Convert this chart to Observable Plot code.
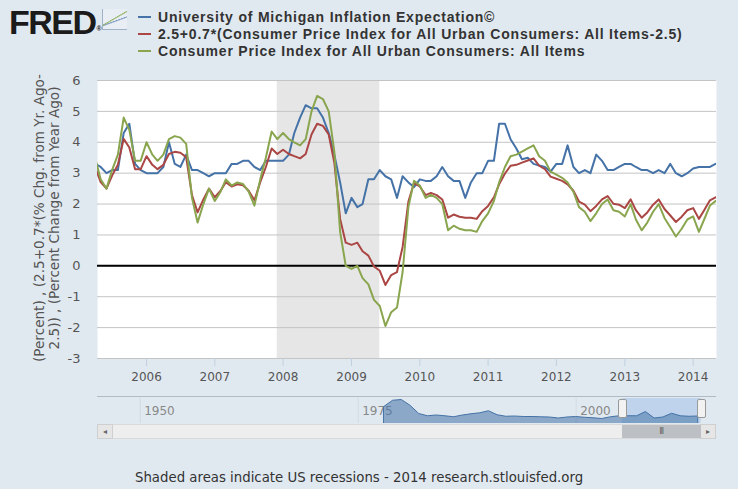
<!DOCTYPE html>
<html><head><meta charset="utf-8">
<script src="https://cdn.jsdelivr.net/npm/d3@7"></script>
<script src="https://cdn.jsdelivr.net/npm/@observablehq/plot@0.6"></script>
<style>
html,body{margin:0;padding:0;background:#e1e9f0;}
#wrap{position:relative;width:738px;height:489px;overflow:hidden;background:#e1e9f0;font-family:"DejaVu Sans",sans-serif;}
.abs{position:absolute;}
#logo{left:9px;top:3px;font:bold 34px "Liberation Sans",sans-serif;letter-spacing:-1.5px;color:#1b1b1b;}
#logo sup{font-size:7px;letter-spacing:0;vertical-align:top;position:relative;top:22px;left:1px;}
#icon{left:102px;top:9px;width:24px;height:20px;border-left:1px solid #9fb3c8;border-bottom:1px solid #9fb3c8;
 background:linear-gradient(150deg,transparent 45%,#8fb05a 47%,transparent 52%),linear-gradient(160deg,transparent 55%,#6f8fbf 57%,transparent 62%),#e8eef4;}
#legend{left:138px;top:9px;font:bold 14px "Liberation Sans",sans-serif;letter-spacing:0.8px;color:#333;line-height:17px;}
#legend .sw{display:inline-block;width:13px;height:2px;vertical-align:middle;margin-right:7px;position:relative;top:-1px;}
#ylab{left:-112px;top:202px;width:320px;height:32px;text-align:center;font-size:13.6px;line-height:15px;color:#555;transform:rotate(-90deg);white-space:pre;}
#navtop{left:97px;top:396px;width:619px;height:0;border-top:1px solid #b2bac4;}
#track{left:97px;top:424px;width:617px;height:13px;background:#eeeeee;border:1px solid #dadada;}
.btn{top:424px;width:14px;height:13px;background:#e6e6e6;border:1px solid #cfcfcf;font-size:8px;color:#666;text-align:center;line-height:13px;}
#thumb{top:425px;height:13px;background:#bcc0c5;color:#666;font-size:8px;text-align:center;line-height:13px;letter-spacing:-1px;}
.handle{top:399px;width:7px;height:17px;background:#f2f2f2;border:1px solid #999;border-radius:2px;}
#caption{left:135px;top:470px;font-size:13.3px;color:#333;}
</style></head>
<body><div id="wrap"></div>
<script>
// ---- data ----
const seriesNames = [
  "University of Michigan Inflation Expectation©",
  "2.5+0.7*(Consumer Price Index for All Urban Consumers: All Items-2.5)",
  "Consumer Price Index for All Urban Consumers: All Items"
];
const seriesColors = ["#4572a7", "#aa4643", "#89a54e"];
const startYear = 2005, startMonth = 3; // April 2005, monthly

const michigan = [
  3.3, 3.2, 3.0, 3.1, 3.1, 4.3, 4.6, 3.3, 3.1,
  3.0, 3.0, 3.0, 3.2, 4.0, 3.3, 3.2, 3.6, 3.1, 3.1, 3.0, 2.9,
  3.0, 3.0, 3.0, 3.3, 3.3, 3.4, 3.4, 3.2, 3.1, 3.4, 3.4, 3.4,
  3.4, 3.6, 4.3, 4.8, 5.2, 5.1, 5.1, 4.8, 4.3, 3.6, 2.7, 1.7,
  2.2, 1.9, 2.0, 2.8, 2.8, 3.1, 2.9, 2.8, 2.2, 2.9, 2.7, 2.55,
  2.8, 2.75, 2.75, 2.9, 3.2, 2.9, 2.75, 2.75, 2.2, 2.7, 3.0, 3.0,
  3.4, 3.4, 4.6, 4.6, 4.1, 3.8, 3.45, 3.5, 3.3, 3.25, 3.2, 3.05,
  3.3, 3.3, 3.9, 3.2, 3.0, 3.1, 3.0, 3.6, 3.4, 3.1, 3.1, 3.2,
  3.3, 3.3, 3.2, 3.1, 3.1, 3.0, 3.1, 3.0, 3.3, 3.0, 2.9, 3.0,
  3.15, 3.2, 3.2, 3.2, 3.3
];
const cpiAdjusted = [
  3.20, 2.71, 2.50, 2.92, 3.27, 4.11, 3.83, 3.13, 3.13,
  3.55, 3.27, 3.13, 3.27, 3.62, 3.69, 3.66, 3.52, 2.29, 1.73, 2.15, 2.50,
  2.22, 2.43, 2.71, 2.57, 2.64, 2.61, 2.43, 2.12, 2.71, 3.20, 3.80, 3.62,
  3.76, 3.62, 3.55, 3.48, 3.62, 4.25, 4.60, 4.53, 4.25, 3.34, 1.52, 0.75,
  0.68, 0.75, 0.47, 0.33, -0.02, -0.16, -0.62, -0.30, -0.20, 0.61, 2.08, 2.68,
  2.57, 2.29, 2.36, 2.29, 2.15, 1.56, 1.66, 1.59, 1.56, 1.56, 1.52, 1.77,
  1.94, 2.22, 2.64, 2.99, 3.24, 3.27, 3.34, 3.41, 3.48, 3.24, 3.13, 2.89,
  2.82, 2.75, 2.64, 2.43, 2.08, 1.98, 1.77, 1.94, 2.15, 2.26, 2.01, 1.98,
  1.87, 2.15, 1.80, 1.56, 1.73, 1.98, 2.15, 1.84, 1.63, 1.42, 1.59, 1.80,
  1.87, 1.52, 1.80, 2.12, 2.22
];
const cpi = [
  3.5, 2.8, 2.5, 3.1, 3.6, 4.8, 4.4, 3.4, 3.4,
  4.0, 3.6, 3.4, 3.6, 4.1, 4.2, 4.15, 3.95, 2.2, 1.4, 2.0, 2.5,
  2.1, 2.4, 2.8, 2.6, 2.7, 2.65, 2.4, 1.95, 2.8, 3.5, 4.35, 4.1,
  4.3, 4.1, 4.0, 3.9, 4.1, 5.0, 5.5, 5.4, 5.0, 3.7, 1.1, 0.0,
  -0.1, 0.0, -0.4, -0.6, -1.1, -1.3, -1.95, -1.5, -1.35, -0.2, 1.9, 2.75,
  2.6, 2.2, 2.3, 2.2, 2.0, 1.15, 1.3, 1.2, 1.15, 1.15, 1.1, 1.45,
  1.7, 2.1, 2.7, 3.2, 3.55, 3.6, 3.7, 3.8, 3.9, 3.55, 3.4, 3.05,
  2.95, 2.85, 2.7, 2.4, 1.9, 1.75, 1.45, 1.7, 2.0, 2.15, 1.8, 1.75,
  1.6, 2.0, 1.5, 1.15, 1.4, 1.75, 2.0, 1.55, 1.25, 0.95, 1.2, 1.5,
  1.6, 1.1, 1.5, 1.95, 2.1
];
const recessions = [{start: "2007-12-01", end: "2009-06-01"}];
const yTicks = [-3, -2, -1, 0, 1, 2, 3, 4, 5, 6];
const xTickYears = [2006, 2007, 2008, 2009, 2010, 2011, 2012, 2013, 2014];
const viewStart = "2005-04-14", viewEnd = "2014-05-06";

// navigator (overview of Michigan series, rough annual readings)
const navYear = [1978,1979,1980,1981,1982,1983,1984,1985,1986,1987,1988,1989,1990,1991,1992,1993,1994,1995,1996,1997,1998,1999,2000,2001,2002,2003,2004,2005,2006,2007,2008,2009,2010,2011,2012,2013,2014];
const navValue = [7.0,9.5,9.8,7.5,4.2,3.3,3.6,3.3,2.9,3.6,4.1,4.5,5.3,3.7,3.1,3.2,3.0,3.0,2.9,2.8,2.4,2.8,3.0,2.7,2.5,2.2,2.9,3.3,3.3,3.3,5.0,2.4,2.8,4.3,3.3,3.1,3.2];
const navTickYears = [1950, 1975, 2000];
const navRange = [1945.1, 2016.1];

// ---- build ----
const wrap = document.getElementById("wrap");
function el(tag, cls, id, html) { const e = document.createElement(tag); if (cls) e.className = cls; if (id) e.id = id; if (html != null) e.innerHTML = html; wrap.appendChild(e); return e; }

const rows = [];
[michigan, cpiAdjusted, cpi].forEach((arr, s) => arr.forEach((v, i) => rows.push({
  date: new Date(Date.UTC(startYear, startMonth + i, 1)), value: v, series: seriesNames[s]
})));
const rec = recessions.map(r => ({start: new Date(r.start), end: new Date(r.end)}));
const xDomain = [new Date(viewStart), new Date(viewEnd)];

const main = Plot.plot({
  width: 738, height: 390,
  marginTop: 80, marginBottom: 32, marginLeft: 97, marginRight: 22,
  x: {type: "utc", domain: xDomain},
  y: {domain: [-3, 6]},
  color: {domain: seriesNames, range: seriesColors},
  style: {background: "transparent", fontFamily: "DejaVu Sans", fontSize: "12px", color: "#555", overflow: "visible"},
  marks: [
    Plot.frame({fill: "white", stroke: "none"}),
    Plot.rect(rec, {x1: "start", x2: "end", fill: "#e6e6e6"}),
    Plot.gridY(yTicks, {stroke: "#c4c4c4", strokeOpacity: 1}),
    Plot.ruleY([0], {stroke: "#000", strokeWidth: 2}),
    Plot.line(rows, {x: "date", y: "value", z: "series", stroke: "series", strokeWidth: 2, clip: true}),
    Plot.axisY(yTicks, {tickSize: 0, tickPadding: 17, label: null, fontSize: 13, tickFormat: d => String(d)}),
    Plot.axisX(xTickYears.map(y => new Date(Date.UTC(y, 0, 1))), {tickFormat: d3.utcFormat("%Y"), tickSize: 8, tickPadding: 6, stroke: "#c0d0e0", label: null})
  ]
});
main.style.position = "absolute"; main.style.left = "0px"; main.style.top = "0px";
wrap.appendChild(main);

// header
el("div", "abs", "logo", "FRED<sup>®</sup>");
el("div", "abs", "icon", "");
el("div", "abs", "legend", seriesNames.map((n, i) =>
  `<div><span class="sw" style="background:${seriesColors[i]}"></span>${n}</div>`).join(""));
el("div", "abs", "ylab", "(Percent) , (2.5+0.7*(% Chg. from Yr. Ago-\n2.5)) , (Percent Change from Year Ago)");

// navigator
const toYear = d => d.getUTCFullYear() + (d - Date.UTC(d.getUTCFullYear(), 0, 1)) / (365.25 * 864e5);
const sel = [{a: toYear(xDomain[0]), b: toYear(xDomain[1])}];
const nav = navYear.map((y, i) => ({year: y, v: navValue[i]}));
const navPlot = Plot.plot({
  width: 738, height: 28,
  marginTop: 2, marginBottom: 1, marginLeft: 97, marginRight: 22,
  x: {domain: navRange, axis: null},
  y: {domain: [0.4, 10.4], axis: null},
  style: {background: "transparent", fontFamily: "DejaVu Sans", overflow: "visible"},
  marks: [
    Plot.ruleX(navTickYears, {stroke: "#d3d9e0"}),
    Plot.text(navTickYears, {x: d => d, text: d => String(d), textAnchor: "start", dx: 4, frameAnchor: "middle", fill: "#888", fontSize: 12}),
    Plot.rect(sel, {x1: "a", x2: "b", fill: "#a9c6ea", fillOpacity: 0.6}),
    Plot.areaY(nav, {x: "year", y: "v", fill: "#4572a7", fillOpacity: 0.55, stroke: "#4572a7", strokeWidth: 1, clip: true})
  ]
});
navPlot.style.position = "absolute"; navPlot.style.left = "0px"; navPlot.style.top = "396px";
wrap.appendChild(navPlot);
el("div", "abs", "navtop", "");

const nx = navPlot.scale("x");
const sx1 = nx.apply(sel[0].a), sx2 = nx.apply(sel[0].b);
el("div", "abs", "track", "");
const lb = el("div", "abs btn", null, "&#9666;"); lb.style.left = "97px";
const rb = el("div", "abs btn", null, "&#9656;"); rb.style.left = "700px";
const th = el("div", "abs", "thumb", "III"); th.style.left = sx1 + "px"; th.style.width = (sx2 - sx1) + "px";
const h1 = el("div", "abs handle", null, ""); h1.style.left = (sx1 - 4) + "px";
const h2 = el("div", "abs handle", null, ""); h2.style.left = (sx2 - 4) + "px";

el("div", "abs", "caption", "Shaded areas indicate US recessions - 2014 research.stlouisfed.org");
</script>
</body></html>
